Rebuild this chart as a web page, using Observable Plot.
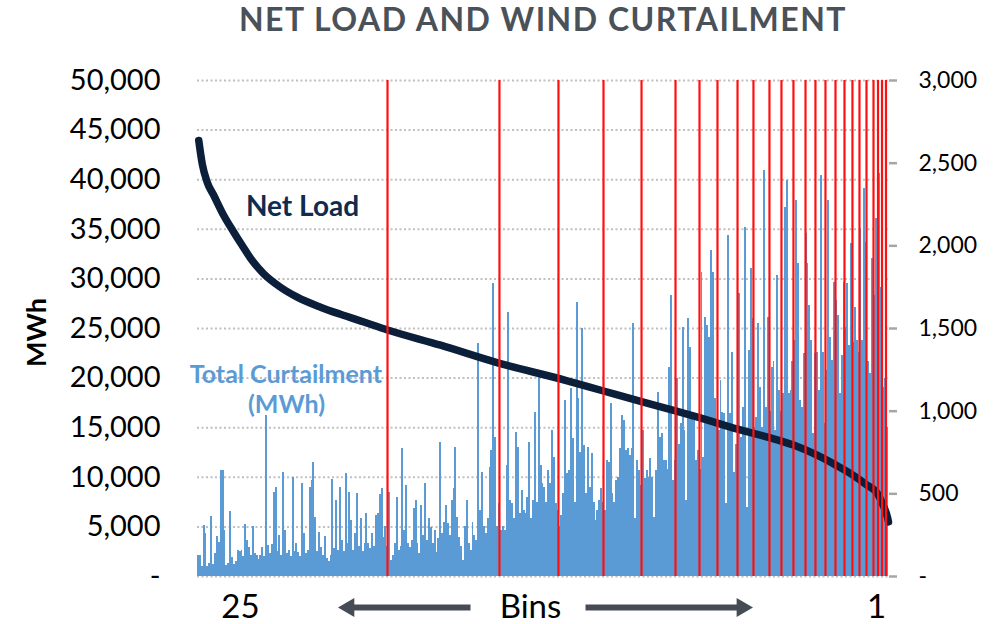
<!DOCTYPE html>
<html><head><meta charset="utf-8">
<script src="https://cdn.jsdelivr.net/npm/d3@7"></script>
<script src="https://cdn.jsdelivr.net/npm/@observablehq/plot@0.6"></script>
<style>
body{margin:0;background:#fff;}
</style></head><body><div id="chart"></div>
<script>
const titleText = "NET LOAD AND WIND CURTAILMENT";
const yLabel = "MWh";
const lineLabel = "Net Load";
const barLabel1 = "Total Curtailment";
const barLabel2 = "(MWh)";
const binTexts = ["25", "Bins", "1"];

// daily total curtailment (MWh), ordered as in the net-load duration curve
const curtailment = [
127,127,60,308,260,60,80,363,70,140,
240,205,641,641,278,66,80,393,115,70,
90,157,150,160,120,314,218,175,130,302,
140,127,100,130,175,120,974,188,140,194,
508,538,150,248,130,629,278,140,157,120,
599,150,200,145,120,563,260,140,160,538,
581,690,357,150,266,175,130,242,109,90,
130,587,170,460,160,538,218,150,623,200,
508,339,160,260,502,180,351,150,200,381,
200,170,260,180,369,381,496,532,236,300,
180,510,97,130,200,480,157,180,772,278,
550,200,175,220,411,460,200,139,430,250,
563,220,351,296,200,278,145,230,813,260,
327,430,321,250,460,532,782,357,236,180,
97,300,460,200,157,327,250,218,1408,399,
631,300,260,350,661,762,1771,843,300,442,
280,300,278,672,1599,460,442,350,873,782,
381,520,400,381,478,813,350,460,994,450,
1206,672,563,538,450,641,563,883,722,442,
400,300,369,500,1065,623,641,1137,835,450,
1660,1077,752,1498,793,500,782,540,744,450,
339,400,460,532,450,400,702,692,1045,502,
450,581,599,772,974,944,762,772,732,772,
1529,349,702,641,550,883,591,641,600,712,
600,359,641,1115,843,863,702,702,650,1266,
1700,581,700,1196,800,924,1508,883,460,1559,
1387,964,944,700,762,650,1841,722,1569,1519,
1448,1972,1841,1077,900,883,1186,992,984,440,
2063,984,1357,631,800,900,1714,843,1024,2113,
420,1367,1861,1559,900,964,1529,1145,903,2456,
1024,1569,1000,1266,1300,883,1821,1125,1000,1105,
2234,2396,1105,1125,1300,1428,2275,1892,1065,1024,
1347,2072,1892,1640,1428,863,1347,1357,1125,2426,
1357,924,1246,2275,1448,1307,1781,1670,1579,1105,
1337,1781,1508,1771,1400,2013,1418,1630,1428,1357,
2103,1428,2346,2023,1300,1226,1922,1700,2164,2315,
2436,1751,1145,1200,900
];

// net load duration curve (hour rank, MWh)
const netLoadHour = [16,60,123,207,333,460,567,693,840,1052,1264,1560,1813,2109,2409,3081,3816,4665,5147,5641,6060,6351,6846,7252,7556,7835,8088,8304,8481,8621,8697,8748,8760];
const netLoad = [43950,41600,39750,38410,36390,34710,33370,31850,30510,29160,28160,27150,26430,25650,24850,23320,21520,19780,18700,17600,16700,16050,14850,14000,13250,12300,11250,10250,9250,8350,7100,5950,5500];

// bin boundaries (hour rank)
const binEdgeHour = [2409,3828,4576,5147,5629,6060,6364,6592,6846,7048,7251,7403,7555,7708,7834,7961,8088,8202,8303,8392,8481,8570,8627,8678,8728];

const leftTicks = [0,5000,10000,15000,20000,25000,30000,35000,40000,45000,50000];
const rightTicks = [0,500,1000,1500,2000,2500,3000];

const k = 50000 / 3000;
const days = curtailment.map((v, i) => ({x1: i * 24, x2: (i + 1) * 24, y: v * k}));
const load = netLoadHour.map((h, i) => ({h, v: netLoad[i]}));
const fmt = d3.format(",");
const rowY = -3125;
const arrowColor = "#464C55";

const chart = Plot.plot({
  width: 1003, height: 624,
  marginTop: 80, marginBottom: 48, marginLeft: 197, marginRight: 115,
  x: {domain: [0, 8760], axis: null},
  y: {domain: [0, 50000], axis: null},
  style: {fontFamily: "Lato, 'Open Sans', sans-serif", color: "black", background: "white"},
  marks: [
    Plot.ruleY(leftTicks, {stroke: "#C0C0C0", strokeWidth: 2, strokeDasharray: "2,2.5"}),
    Plot.rectY(days, {x1: "x1", x2: "x2", y: "y", fill: "#5B9BD5", inset: 0, shapeRendering: "crispEdges"}),
    Plot.line(load, {x: "h", y: "v", stroke: "#0B1F3A", strokeWidth: 7.5, curve: "monotone-x"}),
    Plot.ruleX(binEdgeHour, {y1: 0, y2: 50000, stroke: "#FF1010", strokeWidth: 2.2}),
    Plot.axisY(leftTicks, {anchor: "left", tickSize: 0, tickPadding: 37, fontSize: 29, fill: "black",
      tickFormat: d => d === 0 ? "-" : fmt(d)}),
    Plot.axisY(rightTicks.map(d => d * k), {anchor: "right", tickSize: 8, tickPadding: 22, fontSize: 23,
      stroke: "#A6A6A6", strokeWidth: 2.5, fill: "black",
      tickFormat: d => d === 0 ? "-" : fmt(Math.round(d / k))}),
    Plot.text([titleText], {frameAnchor: "top", dy: -72, fontSize: 32, fontWeight: "bold", fill: "#4B5158"}),
    Plot.text([yLabel], {frameAnchor: "left", dx: -160, y: 24600, rotate: -90, textAnchor: "middle", fontSize: 27, fontWeight: "bold", fill: "black"}),
    Plot.text([lineLabel], {x: 1331, y: 37200, fontSize: 28, fontWeight: "bold", fill: "#0E2C50"}),
    Plot.text([barLabel1], {x: 1120, y: 20360, fontSize: 25, fontWeight: "bold", fill: "#5B9BD5"}),
    Plot.text([barLabel2], {x: 1128, y: 17250, fontSize: 25, fontWeight: "bold", fill: "#5B9BD5"}),
    Plot.text([binTexts[0]], {x: 545, y: rowY, fontSize: 33, fill: "black"}),
    Plot.text([binTexts[1]], {x: 4221, y: rowY, fontSize: 33, fill: "black"}),
    Plot.text([binTexts[2]], {x: 8608, y: rowY, fontSize: 33, fill: "black"}),
    Plot.link([0], {x1: 3461, x2: 1940, y1: rowY, y2: rowY, stroke: arrowColor, strokeWidth: 6}),
    Plot.dot([0], {x: 1919, y: rowY, symbol: "triangle", r: 7, rotate: -90, fill: arrowColor, stroke: "none"}),
    Plot.link([0], {x1: 4919, x2: 6880, y1: rowY, y2: rowY, stroke: arrowColor, strokeWidth: 6}),
    Plot.dot([0], {x: 6904, y: rowY, symbol: "triangle", r: 7, rotate: 90, fill: arrowColor, stroke: "none"})
  ]
});
chart.querySelectorAll("text").forEach(t => {
  if (t.textContent === titleText) t.style.letterSpacing = "1.5px";
});
document.getElementById("chart").appendChild(chart);
</script>
</body></html>
